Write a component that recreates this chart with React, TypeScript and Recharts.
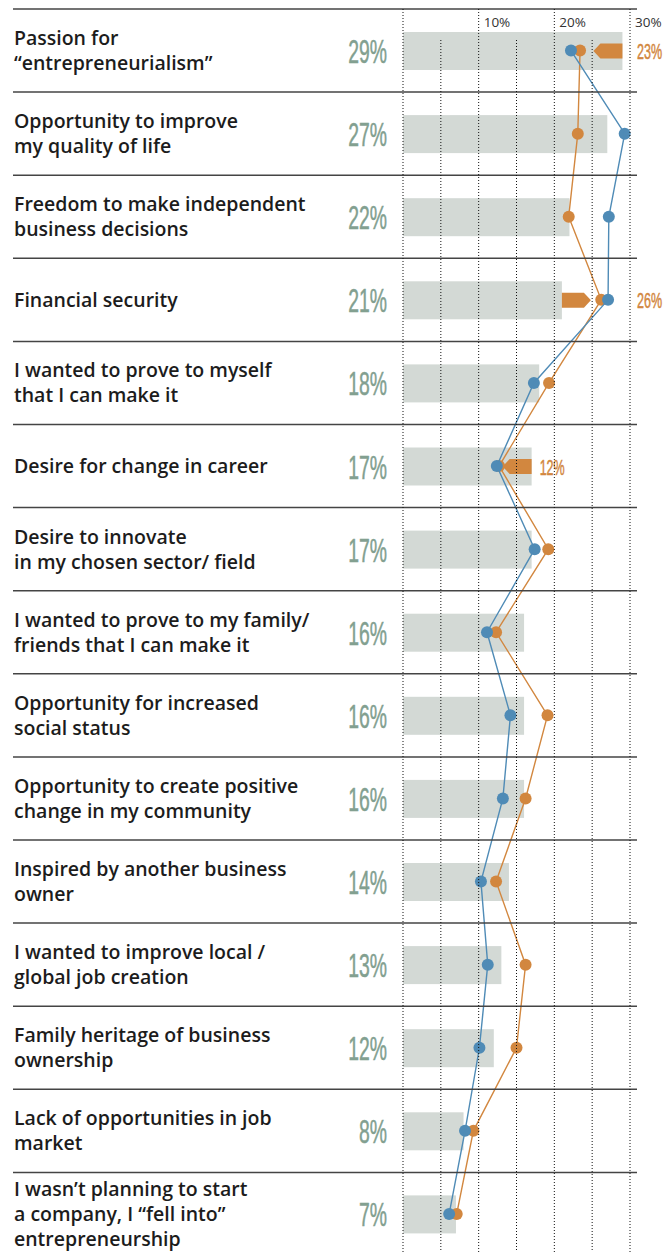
import React from 'react';
import { ComposedChart, Bar, Line, XAxis, YAxis } from 'recharts';

const categories = [
  'Passion for\n“entrepreneurialism”',
  'Opportunity to improve\nmy quality of life',
  'Freedom to make independent\nbusiness decisions',
  'Financial security',
  'I wanted to prove to myself\nthat I can make it',
  'Desire for change in career',
  'Desire to innovate\nin my chosen sector/ field',
  'I wanted to prove to my family/\nfriends that I can make it',
  'Opportunity for increased\nsocial status',
  'Opportunity to create positive\nchange in my community',
  'Inspired by another business\nowner',
  'I wanted to improve local /\nglobal job creation',
  'Family heritage of business\nownership',
  'Lack of opportunities in job\nmarket',
  'I wasn’t planning to start\na company, I “fell into”\nentrepreneurship',
];
const overallShare = [29, 27, 22, 21, 18, 17, 17, 16, 16, 16, 14, 13, 12, 8, 7];
const blueSeries = [22.2, 29.3, 27.2, 27.1, 17.3, 12.4, 17.4, 11.1, 14.2, 13.2, 10.3, 11.2, 10.1, 8.2, 6.1];
const orangeSeries = [23.4, 23.1, 21.9, 26.2, 19.3, 12.7, 19.2, 12.3, 19.1, 16.2, 12.3, 16.2, 15.0, 9.3, 7.1];
const xTicks = [0, 5, 10, 15, 20, 25, 30];
const xTickLabels = ['', '', '10%', '', '20%', '', '30%'];
const arrowRows = [
  { index: 0, direction: 'left', label: '23%', labelOutside: true },
  { index: 3, direction: 'right', label: '26%', labelOutside: true },
  { index: 5, direction: 'left', label: '12%', labelOutside: false },
];

const data = categories.map((c, i) => ({
  category: c,
  overall: overallShare[i],
  blue: blueSeries[i],
  orange: orangeSeries[i],
}));

const W = 663;
const H = 1250;
const PLOT_LEFT = 395;
const PLOT_RIGHT = 622;
const PLOT_TOP = 1;
const PLOT_BOTTOM = 1247.5;
const ROW_H = (PLOT_BOTTOM - PLOT_TOP) / categories.length;

const BLUE = '#4f8bb6';
const ORANGE = '#d2873f';
const BAR = '#d3d9d5';
const PCT = '#82a090';
const CAT_FONT = '"Open Sans", "Noto Sans", sans-serif';
const COND_FONT = '"Liberation Sans", Arial, sans-serif';

const CategoryTick = (props: any) => {
  const { y, payload } = props;
  const idx = categories.indexOf(payload.value);
  const lines = String(payload.value).split('\n');
  const top = y - ROW_H / 2;
  return (
    <g>
      <line x1={5} x2={629} y1={top} y2={top} stroke="#444" strokeWidth={1.5} />
      {idx === categories.length - 1 && (
        <line x1={5} x2={629} y1={top + ROW_H} y2={top + ROW_H} stroke="#444" strokeWidth={1.5} />
      )}
      {lines.map((ln, i) => (
        <text
          key={i}
          x={6}
          y={y + (i - (lines.length - 1) / 2) * 25 + 7}
          fontFamily={CAT_FONT}
          fontSize={19.5}
          fontWeight={600}
          fill="#1c1c1c"
        >
          {ln}
        </text>
      ))}
      <text
        transform={`translate(379, ${y + 12.5}) scale(0.57, 1)`}
        textAnchor="end"
        fontFamily={COND_FONT}
        fontSize={34}
        fill={PCT}
        stroke={PCT}
        strokeWidth={0.5}
      >
        {`${overallShare[idx]}%`}
      </text>
    </g>
  );
};

const GridTick = (props: any) => {
  const { x, payload } = props;
  const i = xTicks.indexOf(payload.value);
  const major = payload.value % 10 === 0;
  return (
    <g>
      <line
        x1={x}
        x2={x}
        y1={major ? PLOT_TOP : 32}
        y2={PLOT_BOTTOM + 6}
        stroke="#111"
        strokeWidth={1}
        strokeDasharray="1 2"
      />
      {xTickLabels[i] && (
        <text x={x + 5} y={18.5} fontFamily={CAT_FONT} fontSize={13.5} fill="#333">
          {xTickLabels[i]}
        </text>
      )}
    </g>
  );
};

const BarWithArrow = (props: any) => {
  const { x, y, width, height, index } = props;
  const arrow = arrowRows.find((a) => a.index === index);
  const end = x + width;
  const cy = y + height / 2;
  const h = 15;
  const len = 29;
  const notch = 7;
  let arrowEl = null;
  let labelEl = null;
  if (arrow) {
    const pts =
      arrow.direction === 'left'
        ? [
            [end, cy - h / 2],
            [end, cy + h / 2],
            [end - len + notch, cy + h / 2],
            [end - len, cy],
            [end - len + notch, cy - h / 2],
          ]
        : [
            [end, cy - h / 2],
            [end + len - notch, cy - h / 2],
            [end + len, cy],
            [end + len - notch, cy + h / 2],
            [end, cy + h / 2],
          ];
    arrowEl = <polygon points={pts.map((p) => p.join(',')).join(' ')} fill={ORANGE} />;
    const lx = arrow.labelOutside ? PLOT_RIGHT + 7 : end + 8;
    labelEl = (
      <text
        transform={`translate(${lx}, ${cy + 8}) scale(0.57, 1)`}
        fontFamily={COND_FONT}
        fontSize={22}
        fill={ORANGE}
        stroke={ORANGE}
        strokeWidth={0.5}
      >
        {arrow.label}
      </text>
    );
  }
  return (
    <g>
      <rect x={x} y={y} width={width} height={height} fill={BAR} />
      {arrowEl}
      {labelEl}
    </g>
  );
};

export default function App() {
  return (
    <div style={{ width: W, height: H }}>
      <ComposedChart
        width={W}
        height={H}
        data={data}
        layout="vertical"
        margin={{ top: 0, right: W - PLOT_RIGHT, bottom: H - PLOT_BOTTOM, left: 0 }}
        barCategoryGap={0}
      >
        <YAxis
          type="category"
          dataKey="category"
          width={PLOT_LEFT}
          axisLine={false}
          tickLine={false}
          interval={0}
          tick={<CategoryTick />}
        />
        <Bar
          dataKey="overall"
          barSize={38}
          fill={BAR}
          shape={<BarWithArrow />}
          isAnimationActive={false}
        />
        <XAxis
          type="number"
          orientation="top"
          domain={[0, 30]}
          ticks={xTicks}
          height={1}
          axisLine={false}
          tickLine={false}
          interval={0}
          tick={<GridTick />}
        />
        <Line
          dataKey="orange"
          stroke={ORANGE}
          strokeWidth={1.4}
          dot={{ r: 6, fill: ORANGE, stroke: 'none', strokeWidth: 0 }}
          activeDot={false}
          isAnimationActive={false}
          zIndex={600}
        />
        <Line
          dataKey="blue"
          stroke={BLUE}
          strokeWidth={1.4}
          dot={{ r: 6, fill: BLUE, stroke: 'none', strokeWidth: 0 }}
          activeDot={false}
          isAnimationActive={false}
          zIndex={610}
        />
      </ComposedChart>
    </div>
  );
}
